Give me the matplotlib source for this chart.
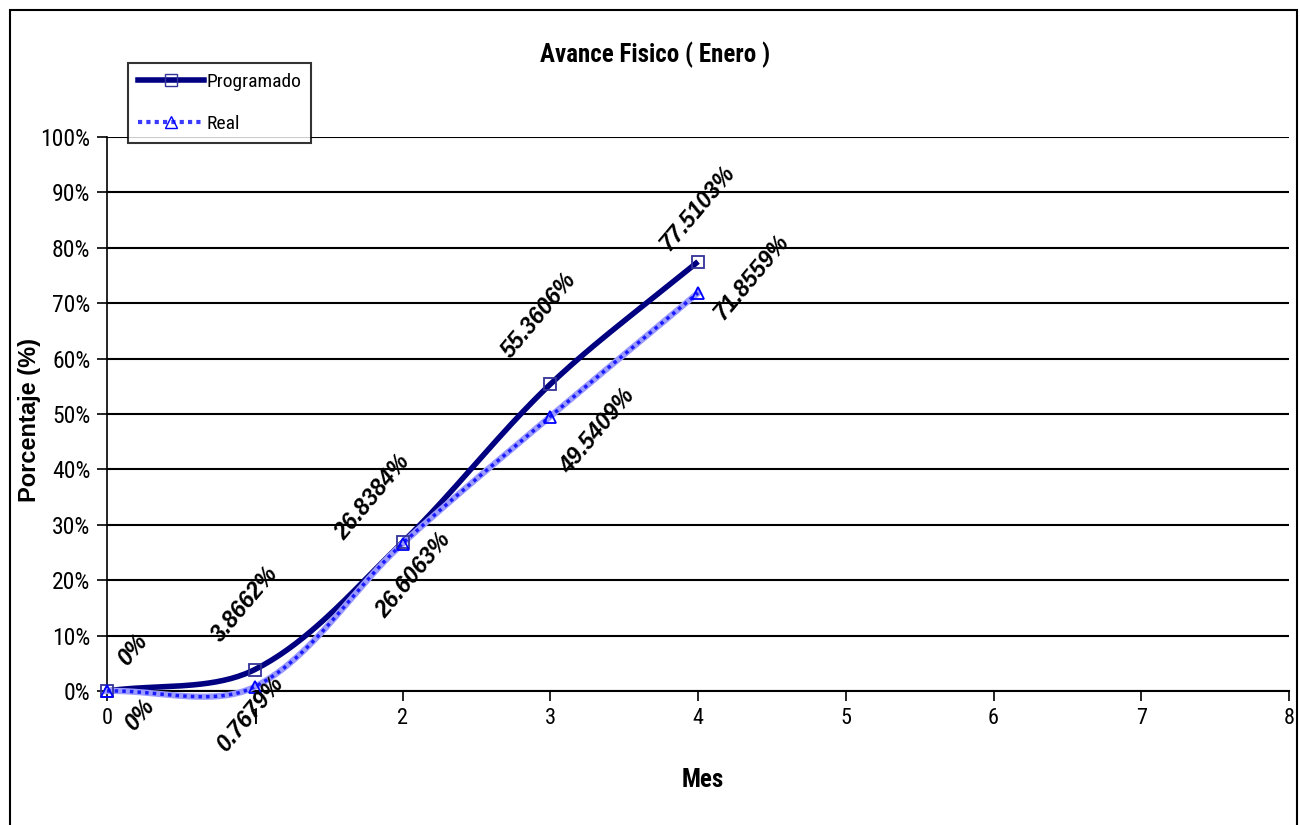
import numpy as np
import matplotlib
matplotlib.use("Agg")
import matplotlib.pyplot as plt
from matplotlib.ticker import PercentFormatter
from matplotlib.patches import Rectangle
from matplotlib.lines import Line2D

plt.rcParams['font.family'] = ['Roboto Condensed', 'Liberation Sans', 'DejaVu Sans']
ANCHA = ['Liberation Sans', 'DejaVu Sans']

meses = [0, 1, 2, 3, 4]
programado = [0.0, 3.8662, 26.8384, 55.3606, 77.5103]
real = [0.0, 0.7679, 26.6063, 49.5409, 71.8559]
etiquetas_prog = ["0%", "3.8662%", "26.8384%", "55.3606%", "77.5103%"]
etiquetas_real = ["0%", "0.7679%", "26.6063%", "49.5409%", "71.8559%"]

# label offsets in pixels (dx, dy), matplotlib y up
off_prog = [(26, 41), (-10, 65), (-30, 45), (-11, 69), (0, 53)]
off_real = [(33, -24), (-5, -27), (11, -32), (47, -15), (54, 16)]


def smooth(ax, x, y, n=40, f=1/3):
    # Excel-like smoothing: bezier with tangents weighted by segment length (display space)
    tr = ax.transData
    p = tr.transform(np.column_stack([x, y]).astype(float))
    out = []
    for i in range(len(p) - 1):
        p0 = p[i - 1] if i > 0 else p[i]
        p1 = p[i]
        p2 = p[i + 1]
        p3 = p[i + 2] if i + 2 < len(p) else p[i + 1]
        d01 = np.hypot(*(p1 - p0))
        d12 = np.hypot(*(p2 - p1))
        d23 = np.hypot(*(p3 - p2))
        c1 = p1 + (p2 - p0) * f * d12 / (d01 + d12)
        c2 = p2 - (p3 - p1) * f * d12 / (d12 + d23)
        t = np.linspace(0, 1, n)[:, None]
        seg = (1 - t)**3 * p1 + 3 * (1 - t)**2 * t * c1 + 3 * (1 - t) * t**2 * c2 + t**3 * p2
        out.append(seg if i == 0 else seg[1:])
    out = tr.inverted().transform(np.vstack(out))
    return out[:, 0], out[:, 1]


fig = plt.figure(figsize=(13, 8.25), dpi=100)
ax = fig.add_axes([107/1300, 1 - 691/825, (1289 - 107)/1300, (691 - 137)/825])

# chart border
fig.patches.append(Rectangle((10/1300, -0.01), (1297 - 10)/1300, (825 - 10)/825 + 0.01,
                             transform=fig.transFigure, fill=False, lw=1.5, ec='black'))

ax.set_xlim(0, 8)
ax.set_ylim(0, 100)
ax.set_yticks(np.arange(0, 101, 10))
ax.set_xticks(range(0, 9))
ax.yaxis.set_major_formatter(PercentFormatter(xmax=100, decimals=0))
ax.grid(axis='y', color='black', lw=1.5)
ax.set_axisbelow(True)
for s in ['top', 'right']:
    ax.spines[s].set_visible(False)
ax.spines['left'].set_linewidth(1.2)
ax.spines['bottom'].set_linewidth(1.5)
ax.tick_params(axis='y', length=7, width=1.2, labelsize=17, pad=5)
ax.tick_params(axis='x', length=7, width=1.2, labelsize=16, pad=5)

xs, ys = smooth(ax, meses, programado)
ax.plot(xs, ys, color='#000080', lw=4, solid_capstyle='butt', zorder=3, clip_on=False)
ax.plot(meses, programado, ls='none', marker='s', ms=8, mfc='none', mec='#333399',
        mew=1.3, zorder=4, clip_on=False)

xr, yr = smooth(ax, meses, real)
ax.plot(xr, yr, color='#9a9aff', lw=4.5, zorder=3, clip_on=False)
ax.plot(xr, yr, color='#1a1aff', lw=2.5, ls=(0, (1, 1.2)), zorder=3, clip_on=False)
ax.plot(meses, real, ls='none', marker='^', ms=9, mfc='none', mec='#0000ff',
        mew=1.3, zorder=4, clip_on=False)

for x, y, t, (dx, dy) in zip(meses, programado, etiquetas_prog, off_prog):
    ax.annotate(t, (x, y), xytext=(dx, dy), textcoords='offset pixels', rotation=50,
                ha='center', va='center', fontsize=16.5, fontweight='bold', fontstyle='italic',
                family=ANCHA, annotation_clip=False, zorder=5)
for x, y, t, (dx, dy) in zip(meses, real, etiquetas_real, off_real):
    ax.annotate(t, (x, y), xytext=(dx, dy), textcoords='offset pixels', rotation=50,
                ha='center', va='center', fontsize=16.5, fontweight='bold', fontstyle='italic',
                family=ANCHA, annotation_clip=False, zorder=5)

fig.text(655/1300, 1 - 55/825, 'Avance Fisico ( Enero )', ha='center', va='center',
         fontsize=18, fontweight='bold')
fig.text(703/1300, 1 - 780/825, 'Mes', ha='center', va='center', fontsize=18, fontweight='bold')
fig.text(30/1300, 1 - 420/825, 'Porcentaje (%)', ha='center', va='center', rotation=90,
         fontsize=17, fontweight='bold', family=ANCHA)

# legend
h1 = Line2D([], [], color='#000080', lw=4, marker='s', ms=8, mfc='none', mec='#333399')
h2 = Line2D([], [], color='#3a3aff', lw=3, ls=(0, (1, 1)), marker='^', ms=9, mfc='none', mec='#0000ff')
leg = fig.legend([h1, h2], ['Programado', 'Real'], loc='upper left',
                 bbox_to_anchor=(128/1300, 1 - 63/825), fontsize=14, frameon=True,
                 fancybox=False, edgecolor='black', handlelength=3.4, handletextpad=0.15,
                 borderpad=0.5, labelspacing=1.25, borderaxespad=0)
leg.get_frame().set_linewidth(1.5)

fig.savefig('out.png', dpi=100)
